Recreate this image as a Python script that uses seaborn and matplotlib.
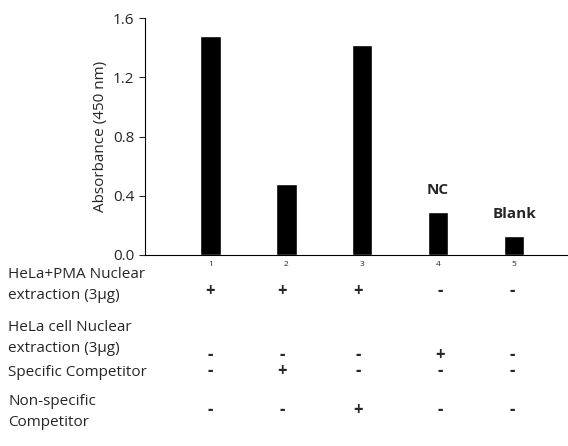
import matplotlib
matplotlib.use("Agg")
import matplotlib.pyplot as plt
import seaborn as sns
import pandas as pd

lanes = ["1", "2", "3", "4", "5"]
absorbance = [1.48, 0.48, 1.42, 0.29, 0.13]
bar_labels = ["", "", "", "NC", "Blank"]
row_labels = ["HeLa+PMA Nuclear\nextraction (3\u03bcg)", "HeLa cell Nuclear\nextraction (3\u03bcg)",
              "Specific Competitor", "Non-specific\nCompetitor"]
row_signs = [["+", "+", "+", "-", "-"],
             ["-", "-", "-", "+", "-"],
             ["-", "+", "-", "-", "-"],
             ["-", "-", "+", "-", "-"]]

sns.set_style("white")
plt.rcParams['font.family'] = ['Open Sans', 'DejaVu Sans']

W, H = 568, 446
fig = plt.figure(figsize=(W/100, H/100), dpi=100)
ax = fig.add_axes([145/W, 1-255/H, (W-145)/W, (255-18)/H])
df = pd.DataFrame({"lane": lanes, "abs": absorbance})
sns.barplot(data=df, x="lane", y="abs", color="black", width=0.27, ax=ax, saturation=1)
ax.set_xlim(-0.86, 4.71)
ax.set_ylim(0, 1.6)
ax.set_yticks([0, 0.4, 0.8, 1.2, 1.6])
ax.set_yticklabels(["0.0", "0.4", "0.8", "1.2", "1.6"], fontsize=11)
ax.tick_params(axis="x", labelsize=6, length=0, pad=4)
ax.tick_params(axis="y", length=4, direction="out", left=True)
ax.set_xlabel("")
ax.set_ylabel("Absorbance (450 nm)", fontsize=11)
for s in ["top", "right"]:
    ax.spines[s].set_visible(False)
for s in ["left", "bottom"]:
    ax.spines[s].set_color("black")
for i, (v, t) in enumerate(zip(absorbance, bar_labels)):
    if t:
        ax.text(i, v + 0.1, t, ha="center", va="bottom", fontsize=11, fontweight="bold")

label_y = [285, 338, 373, 412]
sign_y = [291, 355, 371, 410]
xs = [210, 282, 358, 440, 512]
for r in range(4):
    fig.text(8/W, 1-label_y[r]/H, row_labels[r], ha="left", va="center", fontsize=11, linespacing=1.5)
    for j in range(5):
        fig.text(xs[j]/W, 1-sign_y[r]/H, row_signs[r][j], ha="center", va="center",
                 fontsize=12, fontweight="bold")

fig.savefig("out.png", dpi=100)
